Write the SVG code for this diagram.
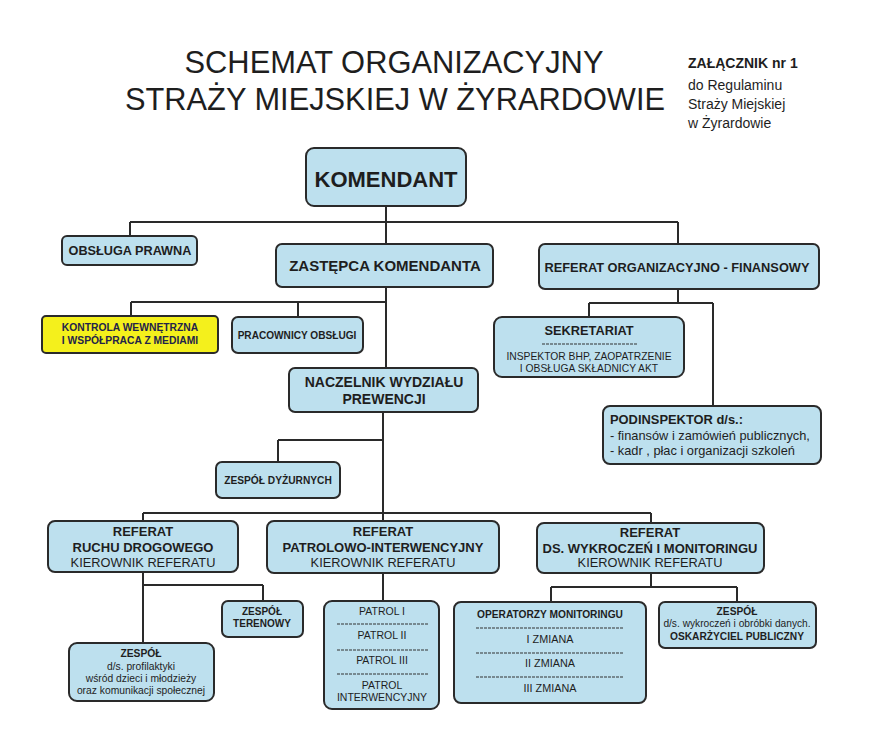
<svg xmlns="http://www.w3.org/2000/svg" width="881" height="749" viewBox="0 0 881 749">
<style>
.box{fill:#bde0ee;stroke:#2a2a2a;stroke-width:2}
.yel{fill:#f4f01c;stroke:#2a2a2a;stroke-width:2}
.ln{fill:none;stroke:#2a2a2a;stroke-width:2}
.dash{stroke:#333;stroke-width:1.2;stroke-dasharray:3 1}
text{font-family:"Liberation Sans",Arial,sans-serif;fill:#1e1e1e}
.c{text-anchor:middle}
.b{font-weight:bold}
</style>
<rect width="881" height="749" fill="#ffffff"/>
<g id="title">
<text class="c" x="394" y="73" font-size="31" textLength="419" lengthAdjust="spacingAndGlyphs">SCHEMAT ORGANIZACYJNY</text>
<text class="c" x="395" y="110" font-size="31" textLength="540" lengthAdjust="spacingAndGlyphs">STRAŻY MIEJSKIEJ W ŻYRARDOWIE</text>
</g>
<g id="annex">
<text class="b" x="688" y="68" font-size="14">ZAŁĄCZNIK nr 1</text>
<text x="688" y="90" font-size="14">do Regulaminu</text>
<text x="688" y="109" font-size="14">Straży Miejskiej</text>
<text x="688" y="128" font-size="14">w Żyrardowie</text>
</g>
<g id="connectors">
<path class="ln" d="M386 206V243M130 222H678M130 222V236M678 222V244"/>
<path class="ln" d="M386 287V368M131 302H386M131 302V316M298 302V317"/>
<path class="ln" d="M678 289V303M589 303H713M589 303V317M713 303V406"/>
<path class="ln" d="M383 412V521M278 440H383M278 440V462"/>
<path class="ln" d="M143 513H651M143 513V521M651 513V523"/>
<path class="ln" d="M143 572V643M143 585H263M263 585V601"/>
<path class="ln" d="M383 573V601"/>
<path class="ln" d="M651 573V587M551 587H737M551 587V602M737 587V602"/>
</g>
<g id="komendant">
<rect class="box" x="306" y="148" width="160" height="58" rx="8"/>
<text class="c b" x="386" y="187" font-size="22">KOMENDANT</text>
</g>
<g id="obsluga-prawna">
<rect class="box" x="62" y="236" width="135" height="29" rx="5"/>
<text class="c b" x="130" y="255" font-size="12.7">OBSŁUGA PRAWNA</text>
</g>
<g id="zastepca">
<rect class="box" x="276" y="244" width="217" height="43" rx="6"/>
<text class="c b" x="385" y="271" font-size="15">ZASTĘPCA KOMENDANTA</text>
</g>
<g id="referat-org-fin">
<rect class="box" x="539" y="244" width="280" height="45" rx="6"/>
<text class="c b" x="677" y="272" font-size="12.8">REFERAT ORGANIZACYJNO - FINANSOWY</text>
</g>
<g id="kontrola">
<rect class="yel" x="42" y="316" width="176" height="37" rx="4"/>
<text class="c b" x="130" y="331" font-size="10.3" style="fill:#23234a">KONTROLA WEWNĘTRZNA</text>
<text class="c b" x="130" y="344" font-size="10.3" style="fill:#23234a">I WSPÓŁPRACA Z MEDIAMI</text>
</g>
<g id="pracownicy">
<rect class="box" x="232" y="317" width="131" height="36" rx="6"/>
<text class="c b" x="297" y="339" font-size="10.1">PRACOWNICY OBSŁUGI</text>
</g>
<g id="sekretariat">
<rect class="box" x="494" y="317" width="190" height="60" rx="8"/>
<text class="c b" x="589" y="335" font-size="12.8">SEKRETARIAT</text>
<line class="dash" x1="542" y1="344" x2="637" y2="344"/>
<text class="c" x="589" y="360" font-size="10.3">INSPEKTOR BHP, ZAOPATRZENIE</text>
<text class="c" x="589" y="372" font-size="10.3">I OBSŁUGA SKŁADNICY AKT</text>
</g>
<g id="naczelnik">
<rect class="box" x="289" y="368" width="189" height="44" rx="6"/>
<text class="c b" x="384" y="387" font-size="14">NACZELNIK WYDZIAŁU</text>
<text class="c b" x="384" y="404" font-size="14">PREWENCJI</text>
</g>
<g id="podinspektor">
<rect class="box" x="603" y="406" width="218" height="58" rx="7"/>
<text class="b" x="610" y="424" font-size="12.9">PODINSPEKTOR d/s.:</text>
<text x="610" y="440" font-size="12.8">- finansów i zamówień publicznych,</text>
<text x="610" y="455" font-size="12.8">- kadr , płac i organizacji szkoleń</text>
</g>
<g id="zespol-dyzurnych">
<rect class="box" x="216" y="462" width="124" height="36" rx="6"/>
<text class="c b" x="278" y="484" font-size="10.2">ZESPÓŁ DYŻURNYCH</text>
</g>
<g id="referat-ruchu">
<rect class="box" x="48" y="521" width="190" height="51" rx="7"/>
<text class="c b" x="143" y="536" font-size="13">REFERAT</text>
<text class="c b" x="143" y="552" font-size="13">RUCHU DROGOWEGO</text>
<text class="c" x="143" y="567" font-size="12.8">KIEROWNIK REFERATU</text>
</g>
<g id="referat-patrolowo">
<rect class="box" x="267" y="521" width="232" height="52" rx="7"/>
<text class="c b" x="383" y="536" font-size="13">REFERAT</text>
<text class="c b" x="383" y="552" font-size="13">PATROLOWO-INTERWENCYJNY</text>
<text class="c" x="383" y="567" font-size="12.8">KIEROWNIK REFERATU</text>
</g>
<g id="referat-wykroczen">
<rect class="box" x="537" y="523" width="227" height="50" rx="7"/>
<text class="c b" x="650" y="537" font-size="13">REFERAT</text>
<text class="c b" x="650" y="553" font-size="13">DS. WYKROCZEŃ I MONITORINGU</text>
<text class="c" x="650" y="567" font-size="12.8">KIEROWNIK REFERATU</text>
</g>
<g id="zespol-terenowy">
<rect class="box" x="222" y="601" width="81" height="36" rx="6"/>
<text class="c b" x="262" y="615" font-size="10">ZESPÓŁ</text>
<text class="c b" x="262" y="627" font-size="10">TERENOWY</text>
</g>
<g id="zespol-profilaktyki">
<rect class="box" x="69" y="643" width="145" height="58" rx="8"/>
<text class="c b" x="141" y="657" font-size="10.3">ZESPÓŁ</text>
<text class="c" x="141" y="670" font-size="10.3">d/s. profilaktyki</text>
<text class="c" x="141" y="682" font-size="10.3">wśród dzieci i młodzieży</text>
<text class="c" x="141" y="694" font-size="10.3">oraz komunikacji społecznej</text>
</g>
<g id="patrole">
<rect class="box" x="324" y="601" width="115" height="108" rx="8"/>
<text class="c" x="382" y="615" font-size="10.5">PATROL I</text>
<line class="dash" x1="337" y1="624" x2="428" y2="624"/>
<text class="c" x="382" y="639" font-size="10.5">PATROL II</text>
<line class="dash" x1="337" y1="650" x2="428" y2="650"/>
<text class="c" x="382" y="664" font-size="10.5">PATROL III</text>
<line class="dash" x1="337" y1="674" x2="428" y2="674"/>
<text class="c" x="382" y="689" font-size="10.5">PATROL</text>
<text class="c" x="382" y="701" font-size="10.5">INTERWENCYJNY</text>
</g>
<g id="operatorzy">
<rect class="box" x="454" y="602" width="192" height="101" rx="7"/>
<text class="c b" x="550" y="618" font-size="10.2">OPERATORZY MONITORINGU</text>
<line class="dash" x1="476" y1="628" x2="624" y2="628"/>
<text class="c" x="550" y="643" font-size="10.8">I ZMIANA</text>
<line class="dash" x1="476" y1="653" x2="624" y2="653"/>
<text class="c" x="550" y="667" font-size="10.8">II ZMIANA</text>
<line class="dash" x1="476" y1="677" x2="624" y2="677"/>
<text class="c" x="550" y="692" font-size="10.8">III ZMIANA</text>
</g>
<g id="zespol-wykroczen">
<rect class="box" x="659" y="602" width="157" height="46" rx="6"/>
<text class="c b" x="737" y="615" font-size="10.2">ZESPÓŁ</text>
<text class="c" x="737" y="627" font-size="10.2">d/s. wykroczeń i obróbki danych.</text>
<text class="c b" x="737" y="640" font-size="10.2">OSKARŻYCIEL PUBLICZNY</text>
</g>
</svg>
